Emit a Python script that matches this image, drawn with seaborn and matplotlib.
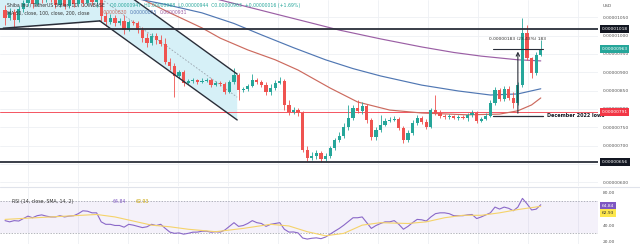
import matplotlib
matplotlib.use("Agg")
import matplotlib.pyplot as plt
import matplotlib.transforms as mtransforms
from matplotlib.lines import Line2D
from matplotlib.patches import Polygon
import numpy as np
import seaborn as sns

# ---------------- data: SHIB/USD daily candles (prices in 1e-8 USD) ----------------
opens = [1070, 1048, 1064, 1043, 1073, 1089, 1108, 1086, 1113, 1097,
         1124, 1102, 1083, 1105, 1081, 1102, 1086, 1108, 1089, 1113,
         1092, 1100, 1053, 1037, 1048, 1034, 1040, 1015, 1037, 1034,
         1015, 993, 980, 999, 988, 977, 928, 917, 890, 901,
         871, 876, 879, 874, 876, 879, 865, 871, 868, 846,
         874, 893, 852, 855, 863, 879, 874, 865, 846, 857,
         871, 876, 811, 792, 797, 789, 688, 667, 672, 680,
         664, 672, 694, 716, 727, 751, 776, 803, 795, 808,
         770, 724, 743, 756, 767, 770, 773, 748, 716, 735,
         762, 776, 765, 751, 797, 789, 781, 778, 781, 776,
         778, 776, 784, 789, 767, 773, 781, 816, 852, 827,
         855, 830, 816, 865, 1007, 939, 898, 947]
highs = [1083, 1075, 1073, 1081, 1097, 1119, 1124, 1130, 1135, 1138,
         1135, 1113, 1119, 1113, 1111, 1113, 1119, 1119, 1124, 1130,
         1110, 1105, 1064, 1059, 1056, 1048, 1056, 1043, 1043, 1040,
         1023, 1007, 1007, 1007, 1002, 993, 939, 925, 906, 906,
         882, 885, 882, 885, 885, 885, 876, 876, 874, 879,
         912, 898, 860, 868, 895, 885, 879, 874, 868, 879,
         887, 882, 825, 806, 803, 795, 699, 683, 688, 686,
         680, 699, 721, 737, 762, 811, 811, 825, 819, 814,
         776, 751, 784, 776, 778, 781, 778, 754, 743, 770,
         784, 781, 773, 803, 838, 797, 786, 786, 784, 784,
         784, 789, 797, 795, 778, 789, 825, 860, 857, 863,
         863, 846, 874, 1048, 1029, 942, 955, 988]
lows = [1029, 1043, 1021, 1037, 1064, 1081, 1075, 1081, 1089, 1092,
        1092, 1075, 1078, 1073, 1075, 1078, 1081, 1081, 1083, 1083,
        1078, 1037, 1026, 1032, 1026, 1029, 1004, 1013, 1029, 1007,
        983, 969, 974, 977, 972, 923, 906, 833, 885, 863,
        868, 871, 868, 871, 874, 860, 863, 863, 841, 844,
        868, 825, 846, 849, 860, 868, 860, 838, 838, 852,
        868, 797, 784, 786, 781, 683, 658, 661, 664, 656,
        658, 667, 688, 710, 721, 743, 770, 789, 786, 762,
        716, 716, 737, 754, 765, 767, 743, 707, 710, 729,
        756, 759, 746, 748, 784, 776, 773, 773, 773, 770,
        773, 767, 778, 762, 765, 770, 778, 811, 822, 822,
        825, 803, 811, 860, 934, 884, 893, 944]
closes = [1048, 1064, 1043, 1073, 1089, 1108, 1086, 1113, 1097, 1124,
          1102, 1083, 1105, 1081, 1102, 1086, 1108, 1089, 1113, 1092,
          1100, 1053, 1037, 1048, 1034, 1040, 1015, 1037, 1034, 1015,
          993, 980, 999, 988, 977, 928, 917, 890, 901, 871,
          876, 879, 874, 876, 879, 865, 871, 868, 846, 874,
          893, 852, 855, 863, 879, 874, 865, 846, 857, 871,
          876, 811, 792, 797, 789, 688, 667, 672, 680, 664,
          672, 694, 716, 727, 751, 776, 803, 795, 808, 770,
          724, 743, 756, 767, 770, 773, 748, 716, 735, 762,
          776, 765, 751, 797, 789, 781, 778, 781, 776, 778,
          776, 784, 789, 767, 773, 781, 816, 852, 827, 855,
          830, 816, 865, 1007, 939, 898, 947, 963]

# moving averages (50 / 100 / 200, close), sampled at bar indices
ma50_idx = [29, 36, 43, 47, 53, 59, 64, 71, 77, 84, 91, 101, 108, 112, 115, 117]
ma50_val = [1105, 1062, 1021, 993, 961, 934, 906, 857, 819, 797, 789, 784, 786, 795, 811, 830]
ma100_idx = [27, 35, 43, 50, 56, 63, 70, 76, 82, 91, 99, 106, 112, 117]
ma100_val = [1105, 1085, 1062, 1033, 1002, 967, 934, 910, 890, 865, 849, 838, 841, 855]
ma200_idx = [40, 47, 54, 60, 67, 73, 82, 91, 98, 104, 112, 117]
ma200_val = [1119, 1097, 1075, 1056, 1034, 1015, 991, 969, 954, 944, 934, 931]

# RSI(14) per bar and its SMA(14)
rsi_values = [45.5, 44, 45.5, 45, 48, 51, 49, 51.5, 52.5, 51,
              50, 50, 51.5, 50, 51, 51.5, 54, 57.5, 57, 55,
              55, 44, 41, 41, 39.6, 39.6, 37.5, 41, 40, 38.5,
              37, 38, 41, 39.5, 41, 36, 31.5, 30, 30.5, 29,
              30, 31.4, 31.5, 32.6, 32.6, 31.4, 32, 31.5, 34, 38.5,
              43, 38.5, 39.5, 42, 45.5, 43, 42, 38.5, 41, 42,
              43, 35, 31.5, 31.7, 30.5, 24.3, 23, 24, 24.5, 23.5,
              25.5, 29, 32.6, 36, 40, 44.5, 49, 49, 50, 43,
              36, 39.5, 42, 44, 44, 45.5, 41, 35, 38.5, 43,
              47, 46.5, 45, 50, 54, 55, 55, 54, 51.5, 51.5,
              51.5, 52.5, 53, 48, 50, 52.5, 55, 62, 59.6, 62,
              60.5, 57.5, 62, 72.6, 66, 58.5, 59.5, 64.84]
rsi_sma_idx = [0, 10, 20, 24, 28, 32, 36, 40, 46, 52, 58, 62, 66, 70, 74,
               78, 82, 88, 92, 96, 100, 104, 108, 112, 117]
rsi_sma_val = [47, 50, 53, 50, 45, 40, 38, 35, 32, 36, 41, 39, 32, 27, 30,
               40, 43, 42, 44, 49, 52, 52, 55, 59, 62.93]

# horizontal levels and drawings
resistance = 1018
support = 656
level_red = 791
dec_2022_low = 781
range_top = 964
rising_line = ([-0.4, 20.7], [1020, 1040])
channel_upper = ([25.1, 50.7], [1126, 895])
channel_lower = ([20.7, 50.7], [1040, 770])
channel_mid = ([20.7, 50.7], [1103, 832])
range_idx = 112
range_span = (106.5, 117.5)

price_ticks = [600, 650, 700, 750, 800, 850, 900, 950, 1000, 1050]
rsi_ticks = [20, 40, 60, 80]

GREEN = "#26a69a"
RED = "#ef5350"
DARK = "#2a2e39"
MA50_C, MA100_C, MA200_C = "#cc6a5e", "#5077b3", "#9b5fa5"

def fmt(v):
    return f"{v * 1e-8:.8f}"

sns.set_theme(style="white")
plt.rcParams["font.family"] = ["DejaVu Sans"]

W, H = 640, 244
fig = plt.figure(figsize=(W / 100, H / 100), dpi=100)
fig.patch.set_facecolor("white")
ax = fig.add_axes([0, 1 - 186 / H, 598 / W, 186 / H])
rx = fig.add_axes([0, 0, 598 / W, 57 / H])

XMIN, XMAX = -1.1, 129.5
grid_x = [5 + 10.92 * k for k in range(12)]

# ---------------- price panel ----------------
ax.set_xlim(XMIN, XMAX)
ax.set_ylim(590, 1097)
ax.set_xticks(grid_x)
ax.set_yticks(price_ticks)
ax.grid(True, color="#eef0f4", lw=0.6)
for s in ax.spines.values():
    s.set_visible(False)

# parallel channel shading
poly = Polygon([(XMIN, 1019), (rising_line[0][1], rising_line[1][1]),
                (channel_lower[0][1], channel_lower[1][1]),
                (channel_upper[0][1], channel_upper[1][1]),
                (channel_upper[0][0], channel_upper[1][0]), (XMIN, 1126)],
               closed=True, fc="#d6f0f7", ec="none", zorder=1)
ax.add_patch(poly)
ax.plot(*rising_line, color=DARK, lw=1.1, zorder=5)
ax.plot(*channel_upper, color=DARK, lw=1.0, zorder=5)
ax.plot(*channel_lower, color=DARK, lw=1.0, zorder=5)
ax.plot(*channel_mid, color="#9aa3ad", lw=0.6, ls=(0, (2, 2)), zorder=2)

ax.axhline(resistance, color=DARK, lw=1.3, zorder=5)
ax.axhline(support, color=DARK, lw=1.3, zorder=5)
ax.axhline(level_red, color="#f23645", lw=0.7, alpha=0.85, zorder=2)

# moving averages
sns.lineplot(x=ma50_idx, y=ma50_val, ax=ax, color=MA50_C, lw=0.85, zorder=3)
sns.lineplot(x=ma100_idx, y=ma100_val, ax=ax, color=MA100_C, lw=0.85, zorder=3)
sns.lineplot(x=ma200_idx, y=ma200_val, ax=ax, color=MA200_C, lw=0.85, zorder=3)

# candles
o = np.array(opens, float)
c = np.array(closes, float)
idx = np.arange(len(c))
cols = np.where(c >= o, GREEN, RED)
ax.vlines(idx, lows, highs, colors=cols, lw=0.6, zorder=4)
ax.bar(idx, np.maximum(np.abs(c - o), 1.5), bottom=np.minimum(o, c),
       width=0.7, color=cols, lw=0, zorder=4)

# December 2022 lows and the price-range measurement
ax.plot(range_span, [dec_2022_low, dec_2022_low], color=DARK, lw=0.9, zorder=6)
ax.plot(range_span, [range_top, range_top], color=DARK, lw=0.8, zorder=6)
ax.annotate("", xy=(range_idx, range_top), xytext=(range_idx, dec_2022_low),
            arrowprops=dict(arrowstyle="->", color=DARK, lw=0.8, mutation_scale=6),
            zorder=6)
diff = range_top - dec_2022_low
ax.text(range_idx, range_top + 26,
        f"{fmt(diff)} ({diff / dec_2022_low * 100:.2f}%) {diff}",
        fontsize=3.2, color="#333333", ha="center", va="center", zorder=7)
ax.text(118.3, dec_2022_low, "December 2022 lows", fontsize=3.5,
        fontweight="bold", color="#131722", ha="left", va="center", zorder=7)

# right price scale
ax.yaxis.tick_right()
ax.tick_params(axis="y", length=0, pad=3.6, labelsize=3.2, labelcolor="#555555")
ax.tick_params(axis="x", length=0, labelbottom=False)
ax.set_yticklabels([fmt(v) for v in price_ticks])
trans = mtransforms.blended_transform_factory(ax.transAxes, ax.transData)

def price_box(v, fc, tc):
    ax.text(1.006, v, fmt(v), transform=trans, fontsize=3.2, color=tc,
            ha="left", va="center", clip_on=False, zorder=20,
            bbox=dict(boxstyle="square,pad=0.4", fc=fc, ec="none"))

price_box(resistance, "#131722", "white")
price_box(closes[-1], GREEN, "white")
price_box(level_red, "#f23645", "white")
price_box(support, "#131722", "white")
fig.text(603 / W, 1 - 6 / H, "USD", fontsize=3.2, color="#555555", va="center")

# legend lines
fig.text(7 / W, 1 - 5 / H, "Shiba Inu / TetherUS Dollar, 1D, COINBASE", fontsize=3.3,
         color="#333333", va="center")
fig.text(110 / W, 1 - 5 / H,
         "O0.00000947  H0.00000988  L0.00000944  C0.00000963  +0.00000016 (+1.69%)",
         fontsize=3.3, color=GREEN, va="center")
fig.text(7 / W, 1 - 13 / H, "MA 50, close, 100, close, 200, close", fontsize=3.3,
         color="#333333", va="center")
fig.text(100 / W, 1 - 13 / H, fmt(ma50_val[-1]), fontsize=3.3, color=MA50_C, va="center")
fig.text(130 / W, 1 - 13 / H, fmt(ma100_val[-1]), fontsize=3.3, color=MA100_C, va="center")
fig.text(160 / W, 1 - 13 / H, fmt(ma200_val[-1]), fontsize=3.3, color=MA200_C, va="center")

# panel separator
fig.add_artist(Line2D([0, 1], [1 - 186.5 / H] * 2, color="#e0e3eb", lw=0.8))

# ---------------- RSI panel ----------------
rx.set_xlim(XMIN, XMAX)
rx.set_ylim(17, 86.5)
rx.set_xticks(grid_x)
rx.set_yticks(rsi_ticks)
rx.grid(True, axis="x", color="#eef0f4", lw=0.6)
for s in rx.spines.values():
    s.set_visible(False)
rx.fill_between([XMIN, XMAX], 30, 70, color="#7e57c2", alpha=0.08, lw=0)
for lv in (70, 30):
    rx.axhline(lv, color="#9598a1", lw=0.5, ls=(0, (2, 2)))
sns.lineplot(x=idx, y=rsi_values, ax=rx, color="#8a68c8", lw=0.8)
sns.lineplot(x=rsi_sma_idx, y=rsi_sma_val, ax=rx, color="#f5d36a", lw=0.8)
rx.yaxis.tick_right()
rx.tick_params(axis="y", length=0, pad=3.6, labelsize=3.2, labelcolor="#555555")
rx.tick_params(axis="x", length=0, labelbottom=False)
rx.set_yticklabels([f"{v:.2f}" for v in rsi_ticks])
rtrans = mtransforms.blended_transform_factory(rx.transAxes, rx.transData)
# value boxes stacked on the scale
rx.text(1.006, 63, f"{rsi_values[-1]:.2f}", transform=rtrans, fontsize=3.2,
        color="white", ha="left", va="center", clip_on=False, zorder=20,
        bbox=dict(boxstyle="square,pad=0.4", fc="#7e57c2", ec="none"))
rx.text(1.006, 54.5, f"{rsi_sma_val[-1]:.2f}", transform=rtrans, fontsize=3.2,
        color="#333333", ha="left", va="center", clip_on=False, zorder=20,
        bbox=dict(boxstyle="square,pad=0.4", fc="#fde74c", ec="none"))
rx.text(1.5, 69, "RSI (14, close, SMA, 14, 2)", fontsize=3.3, color="#333333",
        va="center", ha="left")
rx.text(23.5, 69, f"{rsi_values[-1]:.2f}", fontsize=3.3, color="#7e57c2", va="center")
rx.text(28.5, 69, f"{rsi_sma_val[-1]:.2f}", fontsize=3.3, color="#c9a400", va="center")

fig.savefig("out.png", dpi=100, facecolor="white")
